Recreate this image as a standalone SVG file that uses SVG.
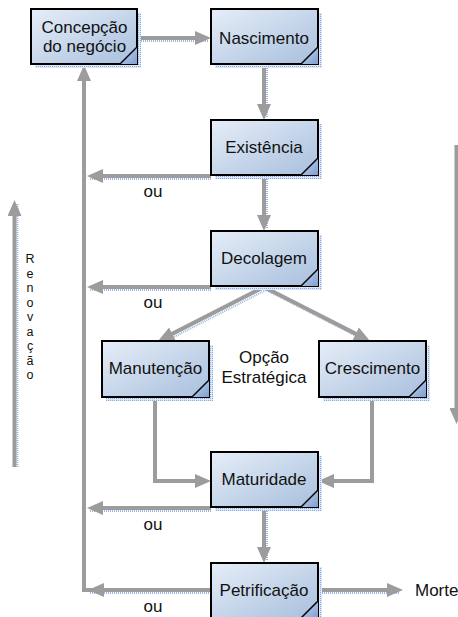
<svg xmlns="http://www.w3.org/2000/svg" width="458" height="617" viewBox="0 0 458 617">
<style>
.box{fill:url(#boxGrad);stroke:#000;stroke-width:2}
.shadow{fill:url(#dots)}
.corner{fill:url(#cornerGrad)}
.fold{stroke:#000;stroke-width:1.5;fill:none}
.lbl{font-family:"Liberation Sans",Arial,sans-serif;font-size:17px;fill:#111;text-anchor:middle}
.txt{font-family:"Liberation Sans",Arial,sans-serif;font-size:17px;fill:#111}
.ren{font-family:"Liberation Sans",Arial,sans-serif;font-size:12.5px;fill:#111;text-anchor:middle}
.con{fill:none;stroke:#9c9c9c;stroke-width:4;marker-end:url(#arr)}
.csh{fill:none;stroke:#9db6e2;stroke-width:2;stroke-dasharray:1 1}
</style>
<defs>
<linearGradient id="boxGrad" x1="0" y1="0" x2="1" y2="1">
<stop offset="0" stop-color="#e6eef8"/>
<stop offset="1" stop-color="#a8bfdd"/>
</linearGradient>
<linearGradient id="cornerGrad" x1="0" y1="0" x2="1" y2="1">
<stop offset="0" stop-color="#c9d8ee"/>
<stop offset="1" stop-color="#7f9fd0"/>
</linearGradient>
<pattern id="dots" width="2" height="2" patternUnits="userSpaceOnUse">
<rect width="2" height="2" fill="#dde7f6"/>
<rect width="1" height="1" fill="#89aade"/>
</pattern>
<marker id="arr" markerUnits="userSpaceOnUse" markerWidth="16" markerHeight="14" refX="4" refY="7" orient="auto">
<path d="M0,0 L16,7 L0,14 Z" fill="#9c9c9c"/>
</marker>
</defs>

<g id="connectors">
<g id="connector-shadows">
<path class="csh" d="M137,41 H208"/>
<path class="csh" d="M267,64 V118"/>
<path class="csh" d="M267,175 V229"/>
<path class="csh" d="M211,179 H90"/>
<path class="csh" d="M211,290 H90"/>
<path class="csh" d="M211,511 H90"/>
<path class="csh" d="M211,593 H90"/>
<path class="csh" d="M267,507 V561"/>
<path class="csh" d="M318,593 H400"/>
<path class="csh" d="M17.5,467 V203"/>
<path class="csh" d="M459,145 V422"/>
<path class="csh" d="M266,290 L162,343"/>
<path class="csh" d="M266,290 L370,343"/>
</g>
<path class="con" d="M137,38 H199"/>
<path class="con" d="M264,64 V108"/>
<path class="con" d="M264,175 V219"/>
<path class="con" d="M211,176 H99"/>
<path class="con" d="M211,287 H99"/>
<path class="con" d="M264,287 L168.7,335.6"/>
<path class="con" d="M264,287 L359.3,335.6"/>
<path class="con" d="M155,397 V481 H199"/>
<path class="con" d="M372,397 V481 H330"/>
<path class="con" d="M211,508 H99"/>
<path class="con" d="M264,507 V551"/>
<path class="con" d="M211,590 H100"/>
<path class="con" d="M100,590 H84 V77"/>
<path class="con" d="M318,590 H391"/>
<path class="con" d="M14.5,467 V212"/>
<path class="con" d="M456.5,145 V412"/>
</g>

<g id="concepcao">
<rect class="shadow" x="35" y="13" width="106" height="55"/>
<rect class="box" x="31" y="9" width="106" height="55"/>
<polygon class="corner" points="120,64 137,47 137,64"/>
<line class="fold" x1="120" y1="64" x2="137" y2="47"/>
<text class="lbl" x="84.5" y="33">Concepção</text>
<text class="lbl" x="84.5" y="52">do negócio</text>
</g>

<g id="nascimento">
<rect class="shadow" x="215" y="13" width="107" height="55"/>
<rect class="box" x="211" y="9" width="107" height="55"/>
<polygon class="corner" points="301,64 318,47 318,64"/>
<line class="fold" x1="301" y1="64" x2="318" y2="47"/>
<text class="lbl" x="264" y="44">Nascimento</text>
</g>

<g id="existencia">
<rect class="shadow" x="215" y="124" width="107" height="55"/>
<rect class="box" x="211" y="120" width="107" height="55"/>
<polygon class="corner" points="301,175 318,158 318,175"/>
<line class="fold" x1="301" y1="175" x2="318" y2="158"/>
<text class="lbl" x="264" y="153">Existência</text>
</g>

<g id="decolagem">
<rect class="shadow" x="215" y="235" width="107" height="55"/>
<rect class="box" x="211" y="231" width="107" height="55"/>
<polygon class="corner" points="301,286 318,269 318,286"/>
<line class="fold" x1="301" y1="286" x2="318" y2="269"/>
<text class="lbl" x="264" y="264">Decolagem</text>
</g>

<g id="manutencao">
<rect class="shadow" x="106" y="345" width="107" height="56"/>
<rect class="box" x="102" y="341" width="107" height="56"/>
<polygon class="corner" points="192,397 209,380 209,397"/>
<line class="fold" x1="192" y1="397" x2="209" y2="380"/>
<text class="lbl" x="155.5" y="374">Manutenção</text>
</g>

<g id="crescimento">
<rect class="shadow" x="323" y="345" width="107" height="56"/>
<rect class="box" x="319" y="341" width="107" height="56"/>
<polygon class="corner" points="409,397 426,380 426,397"/>
<line class="fold" x1="409" y1="397" x2="426" y2="380"/>
<text class="lbl" x="372.5" y="374">Crescimento</text>
</g>

<g id="maturidade">
<rect class="shadow" x="215" y="456" width="107" height="55"/>
<rect class="box" x="211" y="452" width="107" height="55"/>
<polygon class="corner" points="301,507 318,490 318,507"/>
<line class="fold" x1="301" y1="507" x2="318" y2="490"/>
<text class="lbl" x="264" y="485">Maturidade</text>
</g>

<g id="petrificacao">
<rect class="shadow" x="215" y="567" width="107" height="55"/>
<rect class="box" x="211" y="563" width="107" height="55"/>
<polygon class="corner" points="301,618 318,601 318,618"/>
<line class="fold" x1="301" y1="618" x2="318" y2="601"/>
<text class="lbl" x="264" y="596">Petrificação</text>
</g>

<g id="labels">
<text class="lbl" x="264" y="363">Opção</text>
<text class="lbl" x="264" y="383">Estratégica</text>
<text class="lbl" x="153" y="197">ou</text>
<text class="lbl" x="153" y="308">ou</text>
<text class="lbl" x="153" y="530">ou</text>
<text class="lbl" x="153" y="612">ou</text>
<text class="txt" x="415" y="596">Morte</text>
<g id="renovacao">
<text class="ren" x="30" y="263">R</text>
<text class="ren" x="30" y="277.5">e</text>
<text class="ren" x="30" y="292">n</text>
<text class="ren" x="30" y="306.5">o</text>
<text class="ren" x="30" y="321">v</text>
<text class="ren" x="30" y="335.5">a</text>
<text class="ren" x="30" y="350">ç</text>
<text class="ren" x="30" y="364.5">ã</text>
<text class="ren" x="30" y="379">o</text>
</g>
</g>
</svg>
